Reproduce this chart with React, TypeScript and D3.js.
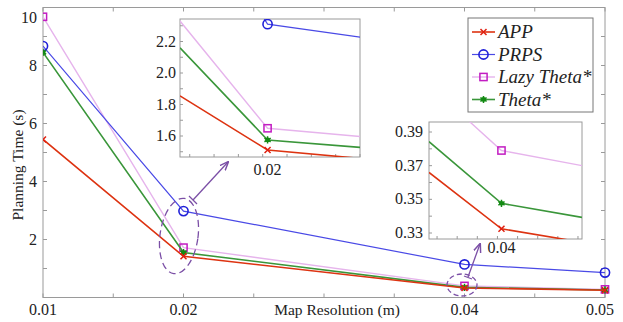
import * as d3 from "d3";

// main chart data
const resolutions = [0.01, 0.02, 0.04, 0.05];
const appTime = [5.45, 1.42, 0.33, 0.25];
const prpsTime = [8.67, 2.98, 1.14, 0.86];
const lazyTime = [9.68, 1.72, 0.4, 0.28];
const thetaTime = [8.45, 1.55, 0.35, 0.26];

const xTickLabels = [0.01, 0.02, 0.04, 0.05];
const yTickLabels = [2, 4, 6, 8, 10];

// zoom inset around 0.02
const zoomAX = [0.0191, 0.02, 0.021];
const zoomAApp = [1.855, 1.511, 1.455];
const zoomAPrps = [3.2, 2.31, 2.224];
const zoomALazy = [2.33, 1.649, 1.594];
const zoomATheta = [2.16, 1.575, 1.525];
const zoomAYLabels = [1.6, 1.8, 2.0, 2.2];

// zoom inset around 0.04
const zoomBX = [0.0391, 0.04, 0.041];
const zoomBApp = [0.366, 0.3325, 0.3245];
const zoomBLazy = [0.418, 0.379, 0.37];
const zoomBTheta = [0.3843, 0.3476, 0.3393];
const zoomBYLabels = [0.33, 0.35, 0.37, 0.39];

const W = 623, H = 322;
const serif = "Liberation Serif, DejaVu Serif, serif";
const frameColor = "#9a9a9a";

type Style = { name: string; line: string; mark: string; marker: string; width: number };
const styles: Record<string, Style> = {
  app: { name: "APP", line: "#dd3311", mark: "#e02010", marker: "x", width: 1.6 },
  prps: { name: "PRPS", line: "#4a4ae6", mark: "#2020d8", marker: "o", width: 1.2 },
  lazy: { name: "Lazy Theta*", line: "#e6b4ec", mark: "#c21cc2", marker: "s", width: 1.4 },
  theta: { name: "Theta*", line: "#3a963a", mark: "#138a13", marker: "*", width: 1.6 },
};

function Marker({ kind, x, y, color }: { kind: string; x: number; y: number; color: string }) {
  if (kind === "x") {
    const s = 3;
    return (
      <path d={`M${x - s},${y - s}L${x + s},${y + s}M${x - s},${y + s}L${x + s},${y - s}`} stroke={color} strokeWidth={1.5} />
    );
  }
  if (kind === "o") return <circle cx={x} cy={y} r={4.6} fill="none" stroke={color} strokeWidth={1.6} />;
  if (kind === "s") return <rect x={x - 3.6} y={y - 3.6} width={7.2} height={7.2} fill="none" stroke={color} strokeWidth={1.5} />;
  const s = 3.6;
  return (
    <g stroke={color} strokeWidth={1.5}>
      <circle cx={x} cy={y} r={2.4} fill={color} stroke="none" />
      <path d={`M${x},${y - s}L${x},${y + s}M${x - s * 0.87},${y - s / 2}L${x + s * 0.87},${y + s / 2}M${x - s * 0.87},${y + s / 2}L${x + s * 0.87},${y - s / 2}`} />
    </g>
  );
}

function Series({ xs, ys, st, x, y, markIdx, clip }: any) {
  const pts: [number, number][] = xs.map((v: number, i: number) => [x(v), y(ys[i])]);
  const line = d3.line();
  return (
    <g clipPath={clip}>
      <path d={line(pts) || ""} fill="none" stroke={st.line} strokeWidth={st.width} />
      {pts.map((p, i) =>
        markIdx.includes(i) ? <Marker key={i} kind={st.marker} x={p[0]} y={p[1]} color={st.mark} /> : null
      )}
    </g>
  );
}

const txt = { fontFamily: serif, fill: "#222" } as const;

export default function App() {
  // main axes
  const x = d3.scaleLinear().domain([0.01, 0.05]).range([43, 605]);
  const y = d3.scaleLinear().domain([0, 10]).range([297.5, 7.5]);
  const left = 43, right = 605, top = 7.5, bottom = 297.5;
  const xTicks = d3.range(0.01, 0.0501, 0.005);
  const yTicks = d3.range(0, 10.01, 1);

  // inset A
  const ax = d3.scaleLinear().domain([0.0191, 0.02095]).range([180, 360]);
  const ay = d3.scaleLinear().domain([1.6, 2.2]).range([136, 41.5]);
  const aBox = { x0: 180, x1: 360, y0: 19, y1: 157 };

  // inset B
  const bx = d3.scaleLinear().domain([0.0391, 0.041]).range([429, 582]);
  const by = d3.scaleLinear().domain([0.33, 0.39]).range([233, 132]);
  const bBox = { x0: 429, x1: 582, y0: 122, y1: 239 };

  const mainAll = [0, 1, 2, 3];
  const fmt2 = (v: number) => v.toFixed(2);

  const tickLen = 4;

  return (
    <svg width={W} height={H} style={{ position: "absolute", left: 0, top: 0, background: "#fff", fontFamily: serif }}>
      <defs>
        <clipPath id="clipMain"><rect x={left} y={top} width={right - left + 6} height={bottom - top + 6} /></clipPath>
        <clipPath id="clipA"><rect x={aBox.x0} y={aBox.y0} width={aBox.x1 - aBox.x0} height={aBox.y1 - aBox.y0} /></clipPath>
        <clipPath id="clipB"><rect x={bBox.x0} y={bBox.y0} width={bBox.x1 - bBox.x0} height={bBox.y1 - bBox.y0} /></clipPath>
        <marker id="arrow" viewBox="0 0 10 10" refX="9" refY="5" markerWidth="7" markerHeight="7" orient="auto">
          <path d="M0,1L10,5L0,9" fill="none" stroke="#7b4fa6" strokeWidth={1.6} />
        </marker>
      </defs>
      <rect width={W} height={H} fill="#fff" />

      {/* main frame and ticks */}
      <rect x={left} y={top} width={right - left} height={bottom - top} fill="none" stroke={frameColor} strokeWidth={1} />
      {xTicks.map((t, i) => (
        <g key={"xt" + i} stroke={frameColor}>
          <line x1={x(t)} x2={x(t)} y1={bottom} y2={bottom - tickLen} />
          <line x1={x(t)} x2={x(t)} y1={top} y2={top + tickLen} />
        </g>
      ))}
      {yTicks.map((t, i) => (
        <g key={"yt" + i} stroke={frameColor}>
          <line x1={left} x2={left + tickLen} y1={y(t)} y2={y(t)} />
          <line x1={right} x2={right - tickLen} y1={y(t)} y2={y(t)} />
        </g>
      ))}
      {xTickLabels.map((t, i) => (
        <text key={"xl" + t} x={Math.min(x(t), 600)} y={315} textAnchor="middle" fontSize={16} style={txt}>{fmt2(t)}</text>
      ))}
      {yTickLabels.map((t) => (
        <text key={"yl" + t} x={37} y={Math.max(y(t), 18) + 5} textAnchor="end" fontSize={16} style={txt}>{t}</text>
      ))}
      <text x={337} y={315} textAnchor="middle" fontSize={15.5} style={txt}>Map Resolution (m)</text>
      <text transform="translate(23,165) rotate(-90)" textAnchor="middle" fontSize={15.5} style={txt}>Planning Time (s)</text>

      {/* main series */}
      <Series xs={resolutions} ys={lazyTime} st={styles.lazy} x={x} y={y} markIdx={mainAll} clip="url(#clipMain)" />
      <Series xs={resolutions} ys={prpsTime} st={styles.prps} x={x} y={y} markIdx={mainAll} clip="url(#clipMain)" />
      <Series xs={resolutions} ys={thetaTime} st={styles.theta} x={x} y={y} markIdx={mainAll} clip="url(#clipMain)" />
      <Series xs={resolutions} ys={appTime} st={styles.app} x={x} y={y} markIdx={mainAll} clip="url(#clipMain)" />

      {/* callout ellipses and arrows */}
      <ellipse cx={179} cy={236} rx={19} ry={38} transform="rotate(8,179,236)" fill="none" stroke="#7b4fa6" strokeWidth={1.3} strokeDasharray="7,4" />
      <line x1={193} y1={200} x2={228} y2={162} stroke="#7b4fa6" strokeWidth={1.3} markerEnd="url(#arrow)" />
      <line x1={189} y1={196} x2={197} y2={204} stroke="#7b4fa6" strokeWidth={1.3} />
      <ellipse cx={462} cy={285} rx={15} ry={11} fill="none" stroke="#7b4fa6" strokeWidth={1.3} strokeDasharray="5,3" />
      <line x1={468} y1={277} x2={480} y2={244} stroke="#7b4fa6" strokeWidth={1.3} markerEnd="url(#arrow)" />
      <line x1={464} y1={276} x2={472} y2={279} stroke="#7b4fa6" strokeWidth={1.3} />

      {/* inset A */}
      <rect x={aBox.x0} y={aBox.y0} width={aBox.x1 - aBox.x0} height={aBox.y1 - aBox.y0} fill="#fff" stroke={frameColor} />
      {d3.range(1.5, 2.31, 0.1).map((t, i) => (
        <line key={"ayt" + i} x1={aBox.x0} x2={aBox.x0 + 3} y1={ay(t)} y2={ay(t)} stroke={frameColor} />
      ))}
      {d3.range(0.0192, 0.02095, 0.00025).map((t, i) => (
        <line key={"axt" + i} x1={ax(t)} x2={ax(t)} y1={aBox.y1} y2={aBox.y1 - 3} stroke={frameColor} />
      ))}
      {zoomAYLabels.map((t) => (
        <text key={"ayl" + t} x={176} y={ay(t) + 5} textAnchor="end" fontSize={16} style={txt}>{t.toFixed(1)}</text>
      ))}
      <text x={ax(0.02)} y={175} textAnchor="middle" fontSize={16} style={txt}>0.02</text>
      <Series xs={zoomAX} ys={zoomALazy} st={styles.lazy} x={ax} y={ay} markIdx={[1]} clip="url(#clipA)" />
      <Series xs={zoomAX} ys={zoomAPrps} st={styles.prps} x={ax} y={ay} markIdx={[1]} clip="url(#clipA)" />
      <Series xs={zoomAX} ys={zoomATheta} st={styles.theta} x={ax} y={ay} markIdx={[1]} clip="url(#clipA)" />
      <Series xs={zoomAX} ys={zoomAApp} st={styles.app} x={ax} y={ay} markIdx={[1]} clip="url(#clipA)" />

      {/* inset B */}
      <rect x={bBox.x0} y={bBox.y0} width={bBox.x1 - bBox.x0} height={bBox.y1 - bBox.y0} fill="#fff" stroke={frameColor} />
      {d3.range(0.33, 0.3951, 0.01).map((t, i) => (
        <line key={"byt" + i} x1={bBox.x0} x2={bBox.x0 + 3} y1={by(t)} y2={by(t)} stroke={frameColor} />
      ))}
      {d3.range(0.0392, 0.041, 0.00025).map((t, i) => (
        <line key={"bxt" + i} x1={bx(t)} x2={bx(t)} y1={bBox.y1} y2={bBox.y1 - 3} stroke={frameColor} />
      ))}
      {zoomBYLabels.map((t) => (
        <text key={"byl" + t} x={423} y={by(t) + 5} textAnchor="end" fontSize={16} style={txt}>{t.toFixed(2)}</text>
      ))}
      <text x={bx(0.04)} y={253} textAnchor="middle" fontSize={16} style={txt}>0.04</text>
      <Series xs={zoomBX} ys={zoomBLazy} st={styles.lazy} x={bx} y={by} markIdx={[1]} clip="url(#clipB)" />
      <Series xs={zoomBX} ys={zoomBTheta} st={styles.theta} x={bx} y={by} markIdx={[1]} clip="url(#clipB)" />
      <Series xs={zoomBX} ys={zoomBApp} st={styles.app} x={bx} y={by} markIdx={[1]} clip="url(#clipB)" />

      {/* legend */}
      <rect x={468} y={18} width={125} height={94} fill="#fff" stroke="#777" />
      {[styles.app, styles.prps, styles.lazy, styles.theta].map((st, i) => {
        const ly = 32 + i * 22.5;
        return (
          <g key={st.name}>
            <line x1={472} x2={495} y1={ly} y2={ly} stroke={st.line} strokeWidth={st.width} />
            <Marker kind={st.marker} x={483.5} y={ly} color={st.mark} />
            <text x={498} y={ly + 6} fontSize={19} fontStyle="italic" style={txt}>{st.name}</text>
          </g>
        );
      })}
    </svg>
  );
}
